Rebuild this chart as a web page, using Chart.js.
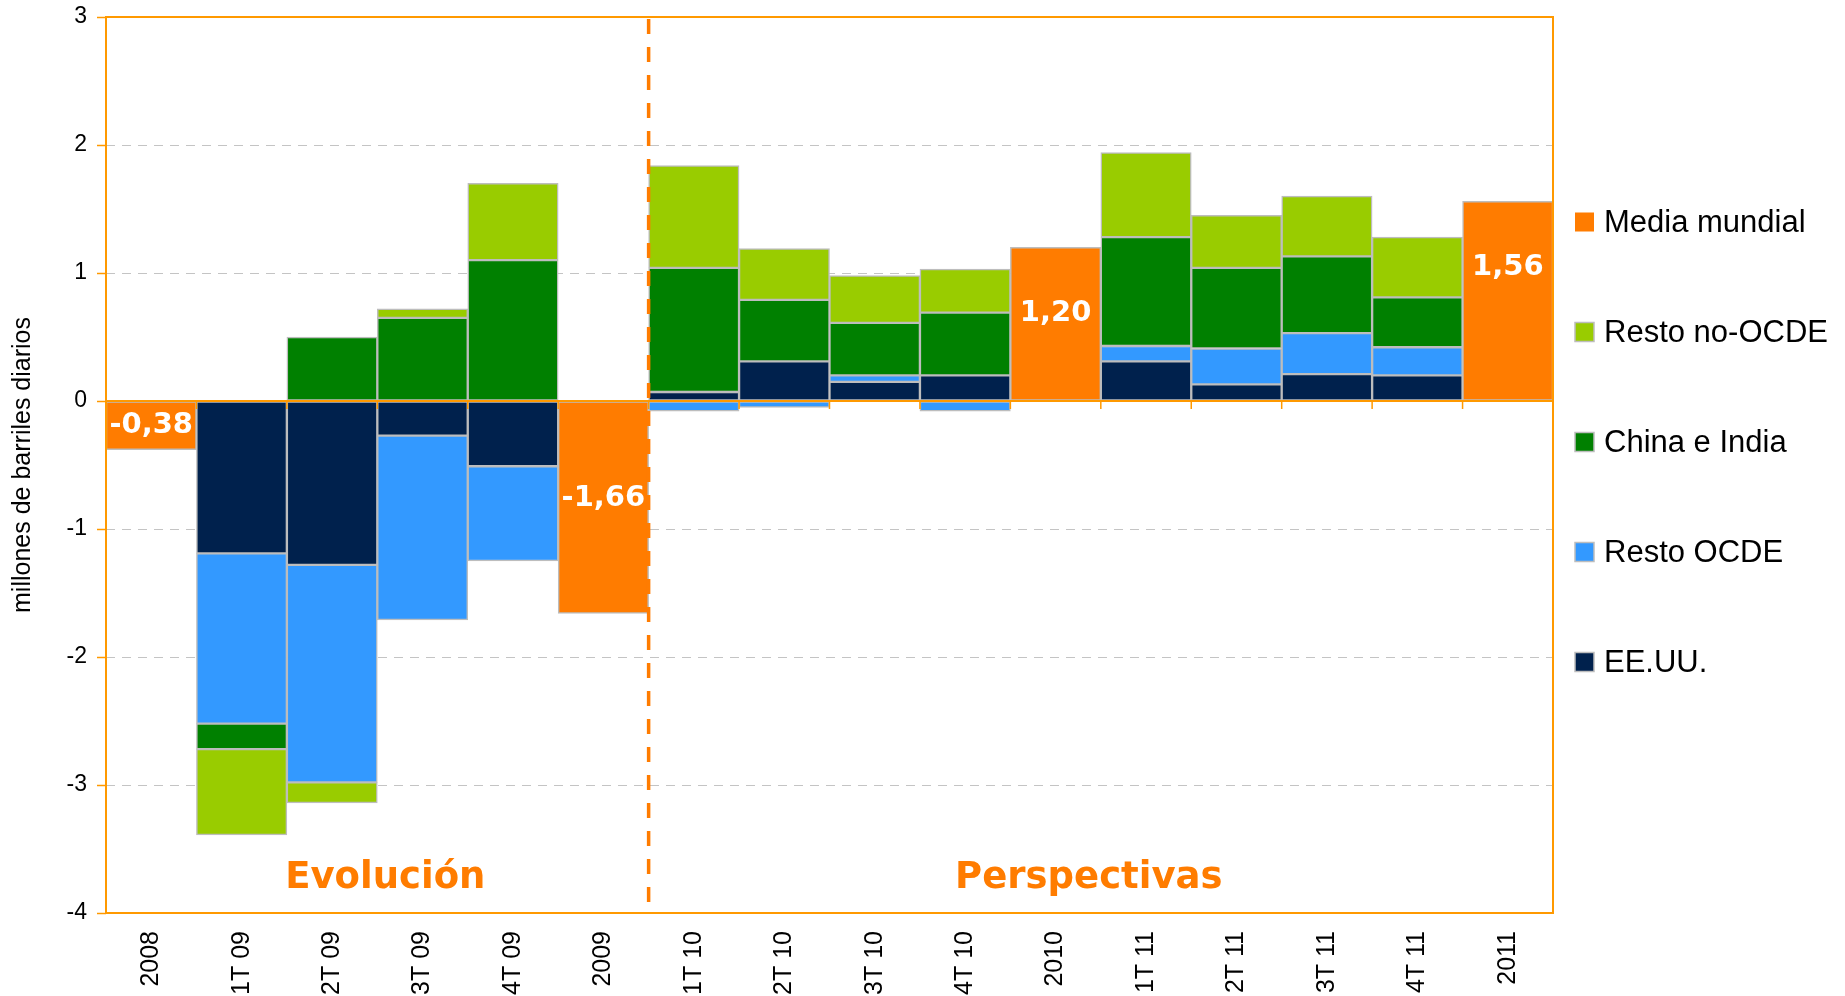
<!DOCTYPE html>
<html><head><meta charset="utf-8">
<script src="https://cdn.jsdelivr.net/npm/chart.js@4/dist/chart.umd.min.js"></script>
<style>html,body{margin:0;padding:0;background:#fff;overflow:hidden}#wrap{width:1845px;height:996px;position:relative}canvas{display:block}</style>
</head><body><div id="wrap"><canvas id="c" width="1845" height="996"></canvas></div>
<script>
// ---- data ----
const categories = ['2008','1T 09','2T 09','3T 09','4T 09','2009','1T 10','2T 10','3T 10','4T 10','2010','1T 11','2T 11','3T 11','4T 11','2011'];
const eeuu        = [null,-1.19,-1.28,-0.27,-0.51,null,0.07,0.31,0.15,0.20,null,0.31,0.13,0.21,0.20,null];
const restoOcde   = [null,-1.33,-1.70,-1.44,-0.74,null,-0.08,-0.05,0.05,-0.08,null,0.12,0.28,0.32,0.22,null];
const chinaIndia  = [null,-0.20,0.50,0.65,1.10,null,0.97,0.48,0.41,0.49,null,0.85,0.63,0.60,0.39,null];
const restoNoOcde = [null,-0.67,-0.16,0.07,0.60,null,0.80,0.40,0.37,0.34,null,0.66,0.41,0.47,0.47,null];
const mediaMundial= [-0.38,null,null,null,null,-1.66,null,null,null,null,1.20,null,null,null,null,1.56];
const seriesNames = ['EE.UU.','Resto OCDE','China e India','Resto no-OCDE','Media mundial'];
const yMin = -4, yMax = 3, yStep = 1;
const periodLabels = ['Evolución','Perspectivas'];
const periodSplitAfter = '2009';
const yTitle = 'millones de barriles diarios';

// ---- style ----
const colors = ['#00214D','#3399FF','#008000','#99CC00','#FF7C00'];
const frameOrange = '#FF9900';
const dividerOrange = '#FF7C00';
const barBorder = '#BDBDBD';
const SANS = '"Liberation Sans", Arial, sans-serif';
const BOLD = '"DejaVu Sans", Verdana, sans-serif';

const seriesData = [eeuu, restoOcde, chinaIndia, restoNoOcde, mediaMundial];
const datasets = seriesData.map((d, i) => ({
  label: seriesNames[i],
  data: d,
  backgroundColor: colors[i],
  borderColor: barBorder,
  borderWidth: 1.5,
  borderSkipped: false,
  barPercentage: 1,
  categoryPercentage: 1,
  stack: 's'
}));

const decoPlugin = {
  id: 'deco',
  afterDatasetsDraw(chart) {
    const {ctx, chartArea: a, scales: {x, y}} = chart;
    ctx.save();
    // zero line + boundary ticks
    const y0 = y.getPixelForValue(0);
    ctx.strokeStyle = frameOrange; ctx.lineWidth = 2; ctx.setLineDash([]);
    ctx.beginPath(); ctx.moveTo(a.left, y0); ctx.lineTo(a.right, y0); ctx.stroke();
    ctx.lineWidth = 1.5;
    for (let i = 1; i < categories.length; i++) {
      const bx = (x.getPixelForValue(i - 1) + x.getPixelForValue(i)) / 2;
      ctx.beginPath(); ctx.moveTo(bx, y0); ctx.lineTo(bx, y0 + 8); ctx.stroke();
    }
    // frame
    ctx.lineWidth = 2;
    ctx.strokeRect(a.left, a.top, a.right - a.left, a.bottom - a.top);
    // divider
    const si = categories.indexOf(periodSplitAfter);
    const dx = (x.getPixelForValue(si) + x.getPixelForValue(si + 1)) / 2;
    ctx.strokeStyle = dividerOrange; ctx.lineWidth = 3.5; ctx.setLineDash([15, 13]);
    ctx.beginPath(); ctx.moveTo(dx, a.top + 2); ctx.lineTo(dx, a.bottom); ctx.stroke();
    ctx.setLineDash([]);
    // period labels
    ctx.fillStyle = dividerOrange;
    ctx.font = 'bold 37px ' + BOLD;
    ctx.textAlign = 'center'; ctx.textBaseline = 'middle';
    ctx.fillText(periodLabels[0], (a.left + dx) / 2 + 8, a.bottom - 35);
    ctx.fillText(periodLabels[1], (dx + a.right) / 2 - 12, a.bottom - 35);
    // value labels on Media mundial
    const mi = seriesNames.indexOf('Media mundial');
    const meta = chart.getDatasetMeta(mi);
    ctx.fillStyle = '#FFFFFF';
    ctx.font = 'bold 29px ' + BOLD;
    meta.data.forEach((bar, i) => {
      const v = mediaMundial[i];
      if (v === null || v === undefined) return;
      const txt = v.toFixed(2).replace('.', ',');
      const ly = v >= 0 ? bar.y + 66 : (bar.y + bar.base) / 2 - (bar.base - bar.y < -100 ? 0 : 0);
      ctx.fillText(txt, bar.x, v < -1 ? ly - 9 : ly);
    });
    ctx.restore();
  },
  afterDraw(chart) {
    const {ctx} = chart;
    ctx.save();
    ctx.font = '31px ' + SANS;
    ctx.textAlign = 'left'; ctx.textBaseline = 'middle';
    const order = [4, 3, 2, 1, 0];
    order.forEach((di, k) => {
      const cy = 222 + k * 110;
      ctx.fillStyle = colors[di];
      ctx.fillRect(1575, cy - 9.5, 19, 19);
      if (di !== 4) { ctx.strokeStyle = barBorder; ctx.lineWidth = 1.5; ctx.strokeRect(1575, cy - 9.5, 19, 19); }
      ctx.fillStyle = '#000';
      ctx.fillText(seriesNames[di], 1604, cy + 1);
    });
    ctx.restore();
  }
};

new Chart(document.getElementById('c'), {
  type: 'bar',
  data: {labels: categories, datasets},
  options: {
    responsive: false,
    animation: false,
    devicePixelRatio: 1,
    events: [],
    layout: {padding: {top: 17, right: 292, left: 0, bottom: 0}},
    plugins: {legend: {display: false}, tooltip: {enabled: false}},
    scales: {
      x: {
        stacked: true,
        grid: {display: false, drawTicks: false, tickLength: 0},
        border: {display: false},
        ticks: {
          minRotation: 90, maxRotation: 90, autoSkip: false,
          color: '#000', font: {family: SANS, size: 25}, padding: 18
        },
        afterFit(s) { s.height = 83; }
      },
      y: {
        stacked: true,
        min: yMin, max: yMax,
        ticks: {stepSize: yStep, color: '#000', font: {family: SANS, size: 23}, padding: 10},
        grid: {color: '#C4C4C4', lineWidth: 1, tickColor: frameOrange, tickLength: 9, tickWidth: 1.5},
        border: {display: false, dash: [9, 7]},
        title: {display: true, text: yTitle, color: '#000', font: {family: SANS, size: 25}, padding: {top: 8, bottom: 0}},
        afterFit(s) { s.width = 106; s.paddingTop = 0; s.paddingBottom = 0; }
      }
    }
  },
  plugins: [decoPlugin]
});
</script>
</body></html>
